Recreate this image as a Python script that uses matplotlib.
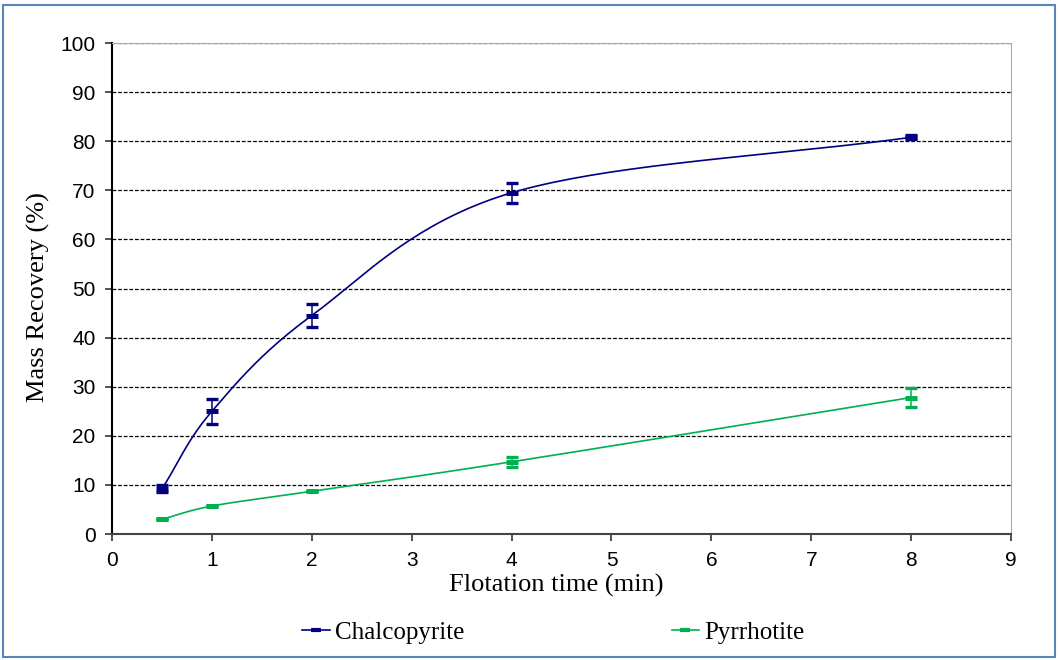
import numpy as np
import matplotlib
matplotlib.use("Agg")
import matplotlib.pyplot as plt
from matplotlib.patches import Rectangle

# flotation times (min)
time = [0.5, 1, 2, 4, 8]

# mass recovery (%) and error
chalco = [9.2, 25.0, 44.5, 69.5, 80.8]
chalco_err = [0.7, 2.5, 2.3, 2.0, 0.4]
pyrr = [3.0, 5.7, 8.7, 14.7, 27.8]
pyrr_err = [0.0, 0.0, 0.0, 1.0, 2.0]

x_ticks = [0, 1, 2, 3, 4, 5, 6, 7, 8, 9]
y_ticks = [0, 10, 20, 30, 40, 50, 60, 70, 80, 90, 100]

BLUE = "#000080"
GREEN = "#00b050"


def smooth(xs, ys, n=40):
    # catmull-rom through the points, like the excel smoothed line
    px = np.array(xs, dtype=float) / 9.0
    py = np.array(ys, dtype=float) / 100.0 * 0.6
    pts = np.column_stack([px, py])
    pts = np.vstack([pts[0] * 2 - pts[1], pts, pts[-1] * 2 - pts[-2]])
    out = []
    for i in range(1, len(pts) - 2):
        p0, p1, p2, p3 = pts[i - 1], pts[i], pts[i + 1], pts[i + 2]
        t = np.linspace(0, 1, n)[:, None]
        seg = 0.5 * ((2 * p1) + (-p0 + p2) * t + (2 * p0 - 5 * p1 + 4 * p2 - p3) * t ** 2
                     + (-p0 + 3 * p1 - 3 * p2 + p3) * t ** 3)
        out.append(seg)
    out = np.vstack(out)
    return out[:, 0] * 9.0, out[:, 1] / 0.6 * 100.0


fig = plt.figure(figsize=(10.58, 6.6), dpi=100)
ax = fig.add_axes([0.1059, 0.1909, 0.8497, 0.7439])

for ys, err, col, name in [(chalco, chalco_err, BLUE, "Chalcopyrite"),
                           (pyrr, pyrr_err, GREEN, "Pyrrhotite")]:
    sx, sy = smooth(time, ys)
    ax.plot(sx, sy, color=col, lw=1.2, zorder=3)
    ax.errorbar(time, ys, yerr=err, fmt="none", ecolor=col, elinewidth=1.1,
                capsize=4, capthick=2.4, zorder=4)
    ax.plot(time, ys, ls="none", marker="_", ms=8.5, mew=3.6, color=col, zorder=5)
    ax.plot([], [], color=col, lw=1.2, marker="_", ms=7, mew=3, label=name)

ax.set_xlim(0, 9)
ax.set_ylim(0, 100)
ax.set_xticks(x_ticks)
ax.set_yticks(y_ticks)
ax.yaxis.grid(True, ls=(0, (3, 1.5)), color="black", lw=0.9)
ax.set_axisbelow(True)

for lab in ax.get_xticklabels() + ax.get_yticklabels():
    lab.set_fontfamily("Liberation Sans")
    lab.set_fontsize(15)
ax.tick_params(direction="out", length=5, width=1.2, color="#333333", pad=7)

ax.spines["left"].set_color("black")
ax.spines["left"].set_linewidth(1.5)
ax.spines["bottom"].set_color("#444444")
ax.spines["bottom"].set_linewidth(1.5)
ax.spines["top"].set_color("#aaaaaa")
ax.spines["right"].set_color("#aaaaaa")

ax.set_xlabel("Flotation time (min)", family="Liberation Serif", fontsize=19)
ax.set_ylabel("Mass Recovery (%)", family="Liberation Serif", fontsize=19)
ax.xaxis.set_label_coords(0.494, -0.081)
ax.yaxis.set_label_coords(-0.069, 0.483)

fig.legend(loc="center", bbox_to_anchor=(0.523, 0.042), ncol=2, frameon=False,
           columnspacing=8.3, handlelength=1.1, handletextpad=0.2,
           prop={"family": "Liberation Serif", "size": 18})

fig.patches.append(Rectangle((0.003, 0.004), 0.994, 0.988, transform=fig.transFigure,
                             fill=False, ec="#5a84bc", lw=1.5))

fig.savefig("out.png", dpi=100)
